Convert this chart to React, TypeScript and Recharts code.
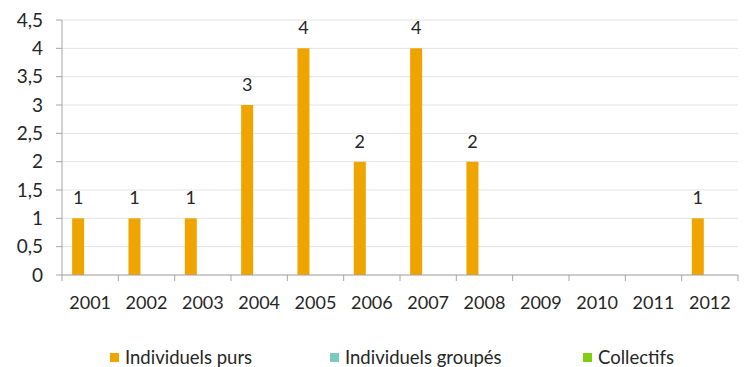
import React from "react";
import { BarChart, Bar, XAxis, YAxis, CartesianGrid, LabelList, Legend } from "recharts";

const years = ["2001", "2002", "2003", "2004", "2005", "2006", "2007", "2008", "2009", "2010", "2011", "2012"];
const individuelsPurs = [1, 1, 1, 3, 4, 2, 4, 2, 0, 0, 0, 1];
const individuelsGroupes = [0, 0, 0, 0, 0, 0, 0, 0, 0, 0, 0, 0];
const collectifs = [0, 0, 0, 0, 0, 0, 0, 0, 0, 0, 0, 0];
const yTicks = [0, 0.5, 1, 1.5, 2, 2.5, 3, 3.5, 4, 4.5];

const data = years.map((y, i) => ({
  year: y,
  purs: individuelsPurs[i],
  groupes: individuelsGroupes[i],
  collectifs: collectifs[i],
}));

const W = 744;
const H = 367;
const M = { top: 20, right: 6, left: 0, bottom: 0 };
const Y_W = 62;
const PLOT_W = W - M.left - M.right - Y_W;
const BAND = PLOT_W / years.length;

const FONT = "Lato, 'Open Sans', sans-serif";
const TXT = "#262626";
const AXIS = "#a6a6a6";

const fmt = (v: number) => String(v).replace(".", ",");

const XTick = (props: any) => {
  const { x, y, payload, index } = props;
  const left = x - BAND / 2;
  const right = x + BAND / 2;
  return (
    <g>
      <line x1={left} x2={left} y1={y - 8} y2={y - 2} stroke={AXIS} />
      {index === years.length - 1 && <line x1={right} x2={right} y1={y - 8} y2={y - 2} stroke={AXIS} />}
      <text x={x} y={y + 26} textAnchor="middle" fill={TXT} fontSize={18} fontFamily={FONT}>
        {payload.value}
      </text>
    </g>
  );
};

const legendItems = [
  { label: "Individuels purs", color: "#F0A400", left: 110 },
  { label: "Individuels groupés", color: "#7CC9BE", left: 330 },
  { label: "Collectifs", color: "#7FCC12", left: 583 },
];

const LegendContent = () => (
  <div style={{ position: "relative", fontFamily: FONT, fontSize: 18.5, color: TXT, height: 24, width: W }}>
    {legendItems.map((it) => (
      <div key={it.label} style={{ position: "absolute", top: 0, left: it.left, display: "flex", alignItems: "center", height: 24, whiteSpace: "nowrap" }}>
        <span style={{ display: "inline-block", width: 9, height: 9, background: it.color, marginRight: 6 }} />
        <span>{it.label}</span>
      </div>
    ))}
  </div>
);

export default function App() {
  return (
    <div style={{ position: "absolute", left: 0, top: 0, width: W, height: H, background: "#fff" }}>
      <BarChart width={W} height={H} data={data} margin={M} barCategoryGap="18%" barGap={0}>
        <CartesianGrid vertical={false} stroke="#e3e3e3" />
        <XAxis
          dataKey="year"
          height={44}
          axisLine={{ stroke: AXIS }}
          tickLine={false}
          tick={<XTick />}
          interval={0}
        />
        <YAxis
          width={Y_W}
          domain={[0, 4.5]}
          ticks={yTicks}
          interval={0}
          tickFormatter={fmt}
          axisLine={{ stroke: AXIS }}
          tickLine={{ stroke: AXIS }}
          tickSize={6}
          tickMargin={13}
          tick={{ fill: TXT, fontSize: 19, fontFamily: FONT }}
        />
        <Legend verticalAlign="bottom" align="left" height={48} content={<LegendContent />} wrapperStyle={{ left: 0, top: 345, bottom: "auto" }} />
        <Bar dataKey="purs" name="Individuels purs" fill="#F0A400" isAnimationActive={false}>
          <LabelList dataKey="purs" position="top" offset={14} fill={TXT} fontSize={18} fontFamily={FONT} formatter={(v: any) => (v ? fmt(v) : "")} />
        </Bar>
        <Bar dataKey="groupes" name="Individuels groupés" fill="#7CC9BE" isAnimationActive={false} />
        <Bar dataKey="collectifs" name="Collectifs" fill="#7FCC12" isAnimationActive={false} />
      </BarChart>
    </div>
  );
}
